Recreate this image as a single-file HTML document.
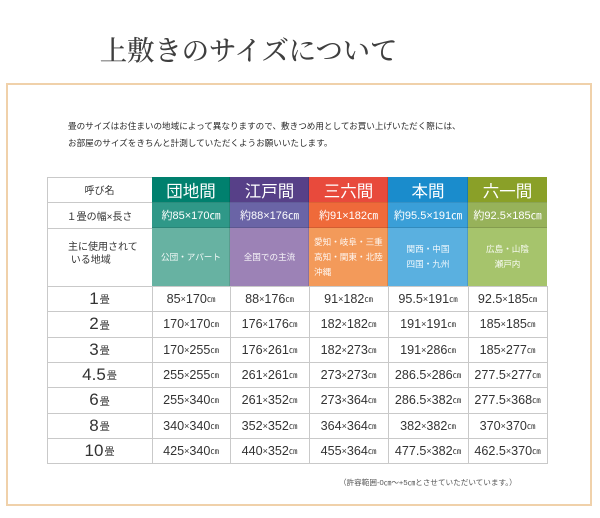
<!DOCTYPE html>
<html><head><meta charset="utf-8">
<style>
html,body{margin:0;padding:0;background:#fff;}
body{width:600px;height:518px;position:relative;overflow:hidden;font-family:"Liberation Sans","Noto Sans CJK JP",sans-serif;color:#333;}
.title{position:absolute;left:0;width:497px;top:29px;text-align:center;font-family:"Liberation Serif","Noto Serif CJK SC",serif;font-size:27.5px;color:#3f3f3f;letter-spacing:-0.2px;line-height:44px;font-weight:500;}
.box{position:absolute;left:6px;top:83px;width:586px;height:423px;border:2px solid #f0d1aa;box-sizing:border-box;}
.intro{position:absolute;left:68px;top:118px;font-size:8.6px;line-height:17px;color:#2a2a2a;white-space:nowrap;letter-spacing:-0.02px;}
.c{position:absolute;box-sizing:border-box;display:flex;align-items:center;justify-content:center;text-align:center;white-space:nowrap;}
.w{color:#fff;}
.hd{font-size:16.5px;}
.r2{font-size:11px;}
.r3{font-size:8.6px;line-height:15px;color:rgba(255,255,255,0.92);}
.lab{font-size:10px;color:#333;}
.d{font-size:12.6px;color:#333;}
.d .x{font-size:9px;}
.d .u{font-size:8.5px;}
.n{font-size:17px;color:#333;}
.n small{font-size:10px;margin-left:1px;}
.hl{position:absolute;height:1px;background:#c9c9c9;}
.vl{position:absolute;width:1px;background:#c9c9c9;}
.note{position:absolute;left:339px;top:477px;font-size:7.6px;color:#555;white-space:nowrap;}
</style></head><body>
<div class="title">上敷きのサイズについて</div>
<div class="box"></div>
<div class="intro">畳のサイズはお住まいの地域によって異なりますので、敷きつめ用としてお買い上げいただく際には、<br>お部屋のサイズをきちんと計測していただくようお願いいたします。</div>

<!-- header row colored cells -->
<div class="c w hd" style="left:152px;top:177px;width:78px;height:25px;background:#00806e;">団地間</div>
<div class="c w hd" style="left:230px;top:177px;width:79px;height:25px;background:#574088;">江戸間</div>
<div class="c w hd" style="left:309px;top:177px;width:79px;height:25px;background:#e84a3c;">三六間</div>
<div class="c w hd" style="left:388px;top:177px;width:80px;height:25px;background:#1a8ccc;">本間</div>
<div class="c w hd" style="left:468px;top:177px;width:79px;height:25px;background:#8aa028;">六一間</div>

<div class="c w r2" style="left:152px;top:202px;width:78px;height:26px;background:#2f9888;">約85×170㎝</div>
<div class="c w r2" style="left:230px;top:202px;width:79px;height:26px;background:#6a64a6;">約88×176㎝</div>
<div class="c w r2" style="left:309px;top:202px;width:79px;height:26px;background:#ef6a3a;">約91×182㎝</div>
<div class="c w r2" style="left:388px;top:202px;width:80px;height:26px;background:#3a9fd8;">約95.5×191㎝</div>
<div class="c w r2" style="left:468px;top:202px;width:79px;height:26px;background:#97b25a;">約92.5×185㎝</div>

<div class="c r3" style="left:152px;top:228px;width:78px;height:58px;background:#67b2a2;">公団・アパート</div>
<div class="c r3" style="left:230px;top:228px;width:79px;height:58px;background:#9c82b6;">全国での主流</div>
<div class="c r3" style="left:309px;top:228px;width:79px;height:58px;background:#f39a5a;justify-content:flex-start;text-align:left;padding-left:5px;padding-top:1px;">愛知・岐阜・三重<br>高知・関東・北陸<br>沖縄</div>
<div class="c r3" style="left:388px;top:228px;width:80px;height:58px;background:#5ab0e0;">関西・中国<br>四国・九州</div>
<div class="c r3" style="left:468px;top:228px;width:79px;height:58px;background:#a6c46c;">広島・山陰<br>瀬戸内</div>

<!-- separators inside colored area -->
<div style="position:absolute;left:152px;top:227px;width:395px;height:1px;background:rgba(0,0,0,0.12);"></div>
<div style="position:absolute;left:152px;top:202px;width:395px;height:1px;background:rgba(0,0,0,0.08);"></div>
<div style="position:absolute;left:229px;top:177px;width:1px;height:109px;background:rgba(0,0,0,0.12);"></div>
<div style="position:absolute;left:308px;top:177px;width:1px;height:109px;background:rgba(0,0,0,0.12);"></div>
<div style="position:absolute;left:387px;top:177px;width:1px;height:109px;background:rgba(0,0,0,0.12);"></div>
<div style="position:absolute;left:467px;top:177px;width:1px;height:109px;background:rgba(0,0,0,0.12);"></div>

<!-- left column labels -->
<div class="c lab" style="left:47px;top:177px;width:105px;height:25px;">呼び名</div>
<div class="c lab" style="left:47px;top:202px;width:105px;height:26px;">１畳の幅×長さ</div>
<div class="lab" style="position:absolute;left:68px;top:241px;font-size:10px;line-height:13px;white-space:nowrap;">主に使用されて<br>&nbsp;いる地域</div>

<!-- grid lines -->
<div class="hl" style="left:47px;top:177px;width:105px;"></div>
<div class="hl" style="left:47px;top:202px;width:105px;"></div>
<div class="hl" style="left:47px;top:228px;width:105px;"></div>
<div class="hl" style="left:47px;top:286px;width:500px;"></div>
<div class="hl" style="left:47px;top:311px;width:500px;"></div>
<div class="hl" style="left:47px;top:337px;width:500px;"></div>
<div class="hl" style="left:47px;top:362px;width:500px;"></div>
<div class="hl" style="left:47px;top:387px;width:500px;"></div>
<div class="hl" style="left:47px;top:413px;width:500px;"></div>
<div class="hl" style="left:47px;top:438px;width:500px;"></div>
<div class="hl" style="left:47px;top:463px;width:500px;"></div>
<div class="vl" style="left:47px;top:177px;height:287px;"></div>
<div class="vl" style="left:152px;top:286px;height:177px;"></div>
<div class="vl" style="left:230px;top:286px;height:177px;"></div>
<div class="vl" style="left:309px;top:286px;height:177px;"></div>
<div class="vl" style="left:388px;top:286px;height:177px;"></div>
<div class="vl" style="left:468px;top:286px;height:177px;"></div>
<div class="vl" style="left:547px;top:286px;height:178px;"></div>

<!-- data rows -->
<div class="c n" style="left:47px;top:286px;width:105px;height:25px;">1<small>畳</small></div>
<div class="c n" style="left:47px;top:311px;width:105px;height:26px;">2<small>畳</small></div>
<div class="c n" style="left:47px;top:337px;width:105px;height:25px;">3<small>畳</small></div>
<div class="c n" style="left:47px;top:362px;width:105px;height:25px;">4.5<small>畳</small></div>
<div class="c n" style="left:47px;top:387px;width:105px;height:26px;">6<small>畳</small></div>
<div class="c n" style="left:47px;top:413px;width:105px;height:25px;">8<small>畳</small></div>
<div class="c n" style="left:47px;top:438px;width:105px;height:25px;">10<small>畳</small></div>

<!-- col 団地間 -->
<div class="c d" style="left:152px;top:286px;width:78px;height:25px;">85<span class="x">×</span>170<span class="u">㎝</span></div>
<div class="c d" style="left:152px;top:311px;width:78px;height:26px;">170<span class="x">×</span>170<span class="u">㎝</span></div>
<div class="c d" style="left:152px;top:337px;width:78px;height:25px;">170<span class="x">×</span>255<span class="u">㎝</span></div>
<div class="c d" style="left:152px;top:362px;width:78px;height:25px;">255<span class="x">×</span>255<span class="u">㎝</span></div>
<div class="c d" style="left:152px;top:387px;width:78px;height:26px;">255<span class="x">×</span>340<span class="u">㎝</span></div>
<div class="c d" style="left:152px;top:413px;width:78px;height:25px;">340<span class="x">×</span>340<span class="u">㎝</span></div>
<div class="c d" style="left:152px;top:438px;width:78px;height:25px;">425<span class="x">×</span>340<span class="u">㎝</span></div>
<!-- col 江戸間 -->
<div class="c d" style="left:230px;top:286px;width:79px;height:25px;">88<span class="x">×</span>176<span class="u">㎝</span></div>
<div class="c d" style="left:230px;top:311px;width:79px;height:26px;">176<span class="x">×</span>176<span class="u">㎝</span></div>
<div class="c d" style="left:230px;top:337px;width:79px;height:25px;">176<span class="x">×</span>261<span class="u">㎝</span></div>
<div class="c d" style="left:230px;top:362px;width:79px;height:25px;">261<span class="x">×</span>261<span class="u">㎝</span></div>
<div class="c d" style="left:230px;top:387px;width:79px;height:26px;">261<span class="x">×</span>352<span class="u">㎝</span></div>
<div class="c d" style="left:230px;top:413px;width:79px;height:25px;">352<span class="x">×</span>352<span class="u">㎝</span></div>
<div class="c d" style="left:230px;top:438px;width:79px;height:25px;">440<span class="x">×</span>352<span class="u">㎝</span></div>
<!-- col 三六間 -->
<div class="c d" style="left:309px;top:286px;width:79px;height:25px;">91<span class="x">×</span>182<span class="u">㎝</span></div>
<div class="c d" style="left:309px;top:311px;width:79px;height:26px;">182<span class="x">×</span>182<span class="u">㎝</span></div>
<div class="c d" style="left:309px;top:337px;width:79px;height:25px;">182<span class="x">×</span>273<span class="u">㎝</span></div>
<div class="c d" style="left:309px;top:362px;width:79px;height:25px;">273<span class="x">×</span>273<span class="u">㎝</span></div>
<div class="c d" style="left:309px;top:387px;width:79px;height:26px;">273<span class="x">×</span>364<span class="u">㎝</span></div>
<div class="c d" style="left:309px;top:413px;width:79px;height:25px;">364<span class="x">×</span>364<span class="u">㎝</span></div>
<div class="c d" style="left:309px;top:438px;width:79px;height:25px;">455<span class="x">×</span>364<span class="u">㎝</span></div>
<!-- col 本間 -->
<div class="c d" style="left:388px;top:286px;width:80px;height:25px;">95.5<span class="x">×</span>191<span class="u">㎝</span></div>
<div class="c d" style="left:388px;top:311px;width:80px;height:26px;">191<span class="x">×</span>191<span class="u">㎝</span></div>
<div class="c d" style="left:388px;top:337px;width:80px;height:25px;">191<span class="x">×</span>286<span class="u">㎝</span></div>
<div class="c d" style="left:388px;top:362px;width:80px;height:25px;">286.5<span class="x">×</span>286<span class="u">㎝</span></div>
<div class="c d" style="left:388px;top:387px;width:80px;height:26px;">286.5<span class="x">×</span>382<span class="u">㎝</span></div>
<div class="c d" style="left:388px;top:413px;width:80px;height:25px;">382<span class="x">×</span>382<span class="u">㎝</span></div>
<div class="c d" style="left:388px;top:438px;width:80px;height:25px;">477.5<span class="x">×</span>382<span class="u">㎝</span></div>
<!-- col 六一間 -->
<div class="c d" style="left:468px;top:286px;width:79px;height:25px;">92.5<span class="x">×</span>185<span class="u">㎝</span></div>
<div class="c d" style="left:468px;top:311px;width:79px;height:26px;">185<span class="x">×</span>185<span class="u">㎝</span></div>
<div class="c d" style="left:468px;top:337px;width:79px;height:25px;">185<span class="x">×</span>277<span class="u">㎝</span></div>
<div class="c d" style="left:468px;top:362px;width:79px;height:25px;">277.5<span class="x">×</span>277<span class="u">㎝</span></div>
<div class="c d" style="left:468px;top:387px;width:79px;height:26px;">277.5<span class="x">×</span>368<span class="u">㎝</span></div>
<div class="c d" style="left:468px;top:413px;width:79px;height:25px;">370<span class="x">×</span>370<span class="u">㎝</span></div>
<div class="c d" style="left:468px;top:438px;width:79px;height:25px;">462.5<span class="x">×</span>370<span class="u">㎝</span></div>

<div class="note">（許容範囲-0㎝～+5㎝とさせていただいています。）</div>
</body></html>
